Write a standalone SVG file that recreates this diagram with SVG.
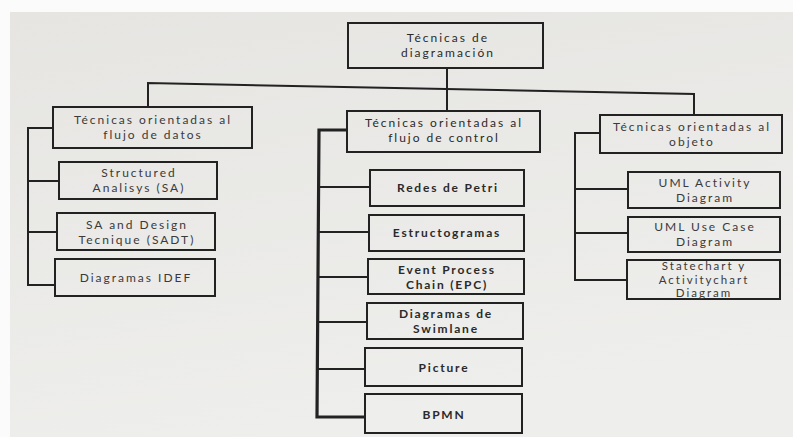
<svg xmlns="http://www.w3.org/2000/svg" width="793" height="437" viewBox="0 0 793 437">
<defs>
<linearGradient id="page" x1="0" y1="0" x2="0.3" y2="1">
<stop offset="0" stop-color="#e6e5e2"/>
<stop offset="1" stop-color="#eeeeec"/>
</linearGradient>
<style>
.box{fill:none;stroke:#222;stroke-width:2}
.ln{fill:none;stroke:#222;stroke-width:2}
.thick{stroke-width:3.2}
text{font-family:Lato,"Open Sans","Liberation Sans",sans-serif;font-size:12px;fill:#3a3a3a;text-anchor:middle;letter-spacing:2px}
.b{font-weight:bold;fill:#2a2a2a;letter-spacing:1.8px}
.m{fill:#2a2a2a}
.s{font-size:11.5px}
</style>
</defs>
<rect width="793" height="437" fill="#fbfbfb"/>
<rect x="10" y="12" width="783" height="425" fill="url(#page)"/>

<g id="connectors">
<line class="ln" x1="447" y1="68" x2="447" y2="111"/>
<polyline class="ln" points="148,107 148,83 694,94 694,115"/>
<polyline class="ln" points="53,128 28,128 28,285 55,285"/>
<line class="ln" x1="28" y1="181" x2="59" y2="181"/>
<line class="ln" x1="28" y1="232" x2="57" y2="232"/>
<polyline class="ln thick" points="347,130 319,130 317,417 365,417"/>
<line class="ln" x1="319" y1="187" x2="370" y2="187"/>
<line class="ln" x1="318" y1="232" x2="369" y2="232"/>
<line class="ln" x1="318" y1="277" x2="368" y2="277"/>
<line class="ln" x1="318" y1="322" x2="367" y2="322"/>
<line class="ln" x1="317" y1="369" x2="365" y2="369"/>
<polyline class="ln" points="600,133 575,133 575,280 627,280"/>
<line class="ln" x1="575" y1="189" x2="628" y2="189"/>
<line class="ln" x1="575" y1="233" x2="628" y2="233"/>
</g>

<g id="root">
<rect class="box" x="348" y="23" width="195" height="45"/>
<text class="m" x="448" y="42">Técnicas de</text>
<text class="m" x="448" y="56.5">diagramación</text>
</g>

<g id="flujo-datos">
<rect class="box" x="53" y="107" width="199" height="41"/>
<text x="153" y="124">Técnicas orientadas al</text>
<text x="153" y="138.5">flujo de datos</text>
</g>
<g id="sa">
<rect class="box" x="59" y="162" width="158" height="37"/>
<text x="139" y="177">Structured</text>
<text x="139" y="192">Analisys (SA)</text>
</g>
<g id="sadt">
<rect class="box" x="57" y="213" width="158" height="37"/>
<text x="137" y="229">SA and Design</text>
<text x="137" y="243.5">Tecnique (SADT)</text>
</g>
<g id="idef">
<rect class="box" x="55" y="259" width="160" height="37"/>
<text x="136" y="282">Diagramas IDEF</text>
</g>

<g id="flujo-control">
<rect class="box" x="347" y="111" width="193" height="41"/>
<text class="m" x="444" y="127">Técnicas orientadas al</text>
<text class="m" x="444" y="141.5">flujo de control</text>
</g>
<g id="petri">
<rect class="box" x="370" y="170" width="154" height="36"/>
<text class="b" x="448" y="192">Redes de Petri</text>
</g>
<g id="estructogramas">
<rect class="box" x="369" y="215" width="155" height="36"/>
<text class="b" x="447" y="237">Estructogramas</text>
</g>
<g id="epc">
<rect class="box" x="368" y="259" width="156" height="35"/>
<text class="b" x="447" y="274">Event Process</text>
<text class="b" x="447" y="288.5">Chain (EPC)</text>
</g>
<g id="swimlane">
<rect class="box" x="367" y="303" width="156" height="36"/>
<text class="b" x="446" y="318">Diagramas de</text>
<text class="b" x="446" y="332.5">Swimlane</text>
</g>
<g id="picture">
<rect class="box" x="365" y="348" width="157" height="38"/>
<text class="b" x="444" y="372">Picture</text>
</g>
<g id="bpmn">
<rect class="box" x="365" y="394" width="157" height="39"/>
<text class="b" x="444" y="419">BPMN</text>
</g>

<g id="objeto">
<rect class="box" x="600" y="115" width="182" height="38"/>
<text x="692" y="131">Técnicas orientadas al</text>
<text x="692" y="145.5">objeto</text>
</g>
<g id="uml-activity">
<rect class="box" x="628" y="172" width="152" height="36"/>
<text x="705" y="187">UML Activity</text>
<text x="705" y="201.5">Diagram</text>
</g>
<g id="uml-usecase">
<rect class="box" x="628" y="217" width="152" height="35"/>
<text x="705" y="231">UML Use Case</text>
<text x="705" y="245.5">Diagram</text>
</g>
<g id="statechart">
<rect class="box" x="627" y="260" width="153" height="39"/>
<text class="s" x="704" y="270">Statechart y</text>
<text class="s" x="704" y="283.5">Activitychart</text>
<text class="s" x="704" y="297">Diagram</text>
</g>
</svg>
